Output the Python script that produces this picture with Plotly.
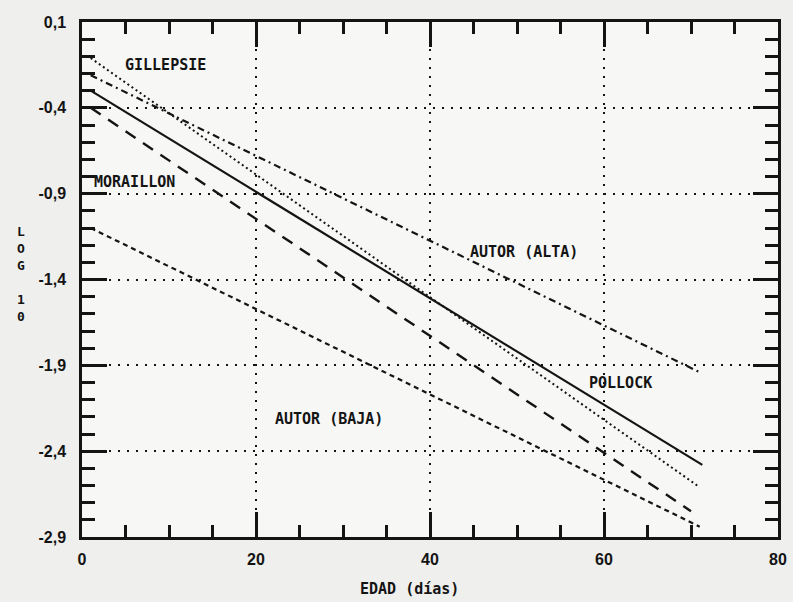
import plotly.graph_objects as go

# ---- data ----
x_tick_vals = [0, 20, 40, 60, 80]
x_tick_text = ["0", "20", "40", "60", "80"]
y_tick_vals = [0.1, -0.4, -0.9, -1.4, -1.9, -2.4, -2.9]
y_tick_text = ["0,1", "-0,4", "-0,9", "-1,4", "-1,9", "-2,4", "-2,9"]

gillepsie_x = [1, 71]
gillepsie_y = [-0.11, -2.61]
autor_alta_x = [1, 71]
autor_alta_y = [-0.21, -1.94]
pollock_x = [1, 71.3]
pollock_y = [-0.30, -2.48]
moraillon_x = [1, 70]
moraillon_y = [-0.40, -2.75]
autor_baja_x = [1, 71]
autor_baja_y = [-1.10, -2.84]

labels = ["GILLEPSIE", "MORAILLON", "AUTOR (ALTA)", "POLLOCK", "AUTOR (BAJA)"]
label_x = [4.7, 1.2, 44.4, 58.0, 22.0]
label_y = [-0.15, -0.83, -1.24, -2.00, -2.21]

y_title = "L<br>O<br>G<br><br>1<br>0"

INK = "#141414"
MONO = "DejaVu Sans Mono"
SANS = "Liberation Sans"

fig = go.Figure()

series = [
    (gillepsie_x, gillepsie_y, "2px,3px", 2),
    (autor_alta_x, autor_alta_y, "7px,4px,2px,4px", 2.2),
    (pollock_x, pollock_y, "solid", 2.2),
    (moraillon_x, moraillon_y, "12px,9px", 2.4),
    (autor_baja_x, autor_baja_y, "5px,4px", 2.2),
]
for xs, ys, dash, w in series:
    fig.add_trace(go.Scatter(x=xs, y=ys, mode="lines",
                             line=dict(color=INK, width=w, dash=dash),
                             showlegend=False, hoverinfo="skip"))

for t, lx, ly in zip(labels, label_x, label_y):
    fig.add_annotation(x=lx, y=ly, text="<b>" + t + "</b>", showarrow=False,
                       xanchor="left", yanchor="middle",
                       font=dict(family=MONO, size=15, color=INK))

# y axis title: stacked characters in one text block
fig.add_annotation(xref="paper", yref="paper", x=-0.088, y=0.51,
                   text="<b>" + y_title + "</b>", showarrow=False,
                   xanchor="center", yanchor="middle", align="center",
                   borderpad=0,
                   font=dict(family=MONO, size=13, color=INK))
# x axis title
fig.add_annotation(xref="paper", yref="paper", x=0.47, y=-0.1,
                   text="<b>EDAD (días)</b>", showarrow=False,
                   xanchor="center", yanchor="middle",
                   font=dict(family=MONO, size=15, color=INK))

axis_common = dict(
    showline=True, linecolor=INK, linewidth=2.5, mirror="ticks",
    ticks="inside", tickcolor=INK, tickwidth=2.5, ticklen=25,
    showgrid=True, gridcolor=INK, gridwidth=2, griddash="2px,7px",
    zeroline=False,
    tickfont=dict(family=SANS, size=16, color=INK, weight="bold"),
)

fig.update_xaxes(range=[0, 80], tickmode="array", tickvals=x_tick_vals,
                 ticktext=x_tick_text, ticklabelstandoff=6,
                 minor=dict(dtick=5, tick0=0, ticks="inside", ticklen=12,
                            tickwidth=2.5, tickcolor=INK, showgrid=False),
                 **axis_common)
fig.update_yaxes(range=[-2.9, 0.1], tickmode="array", tickvals=y_tick_vals,
                 ticktext=y_tick_text, ticklabelstandoff=10,
                 minor=dict(dtick=0.1, tick0=0.1, ticks="inside", ticklen=13,
                            tickwidth=2.5, tickcolor=INK, showgrid=False),
                 **axis_common)

fig.update_layout(
    width=793, height=602,
    margin=dict(l=82, r=6, t=22, b=65),
    paper_bgcolor="#efefed",
    plot_bgcolor="#f7f7f5",
)

fig.write_html("out.html")
